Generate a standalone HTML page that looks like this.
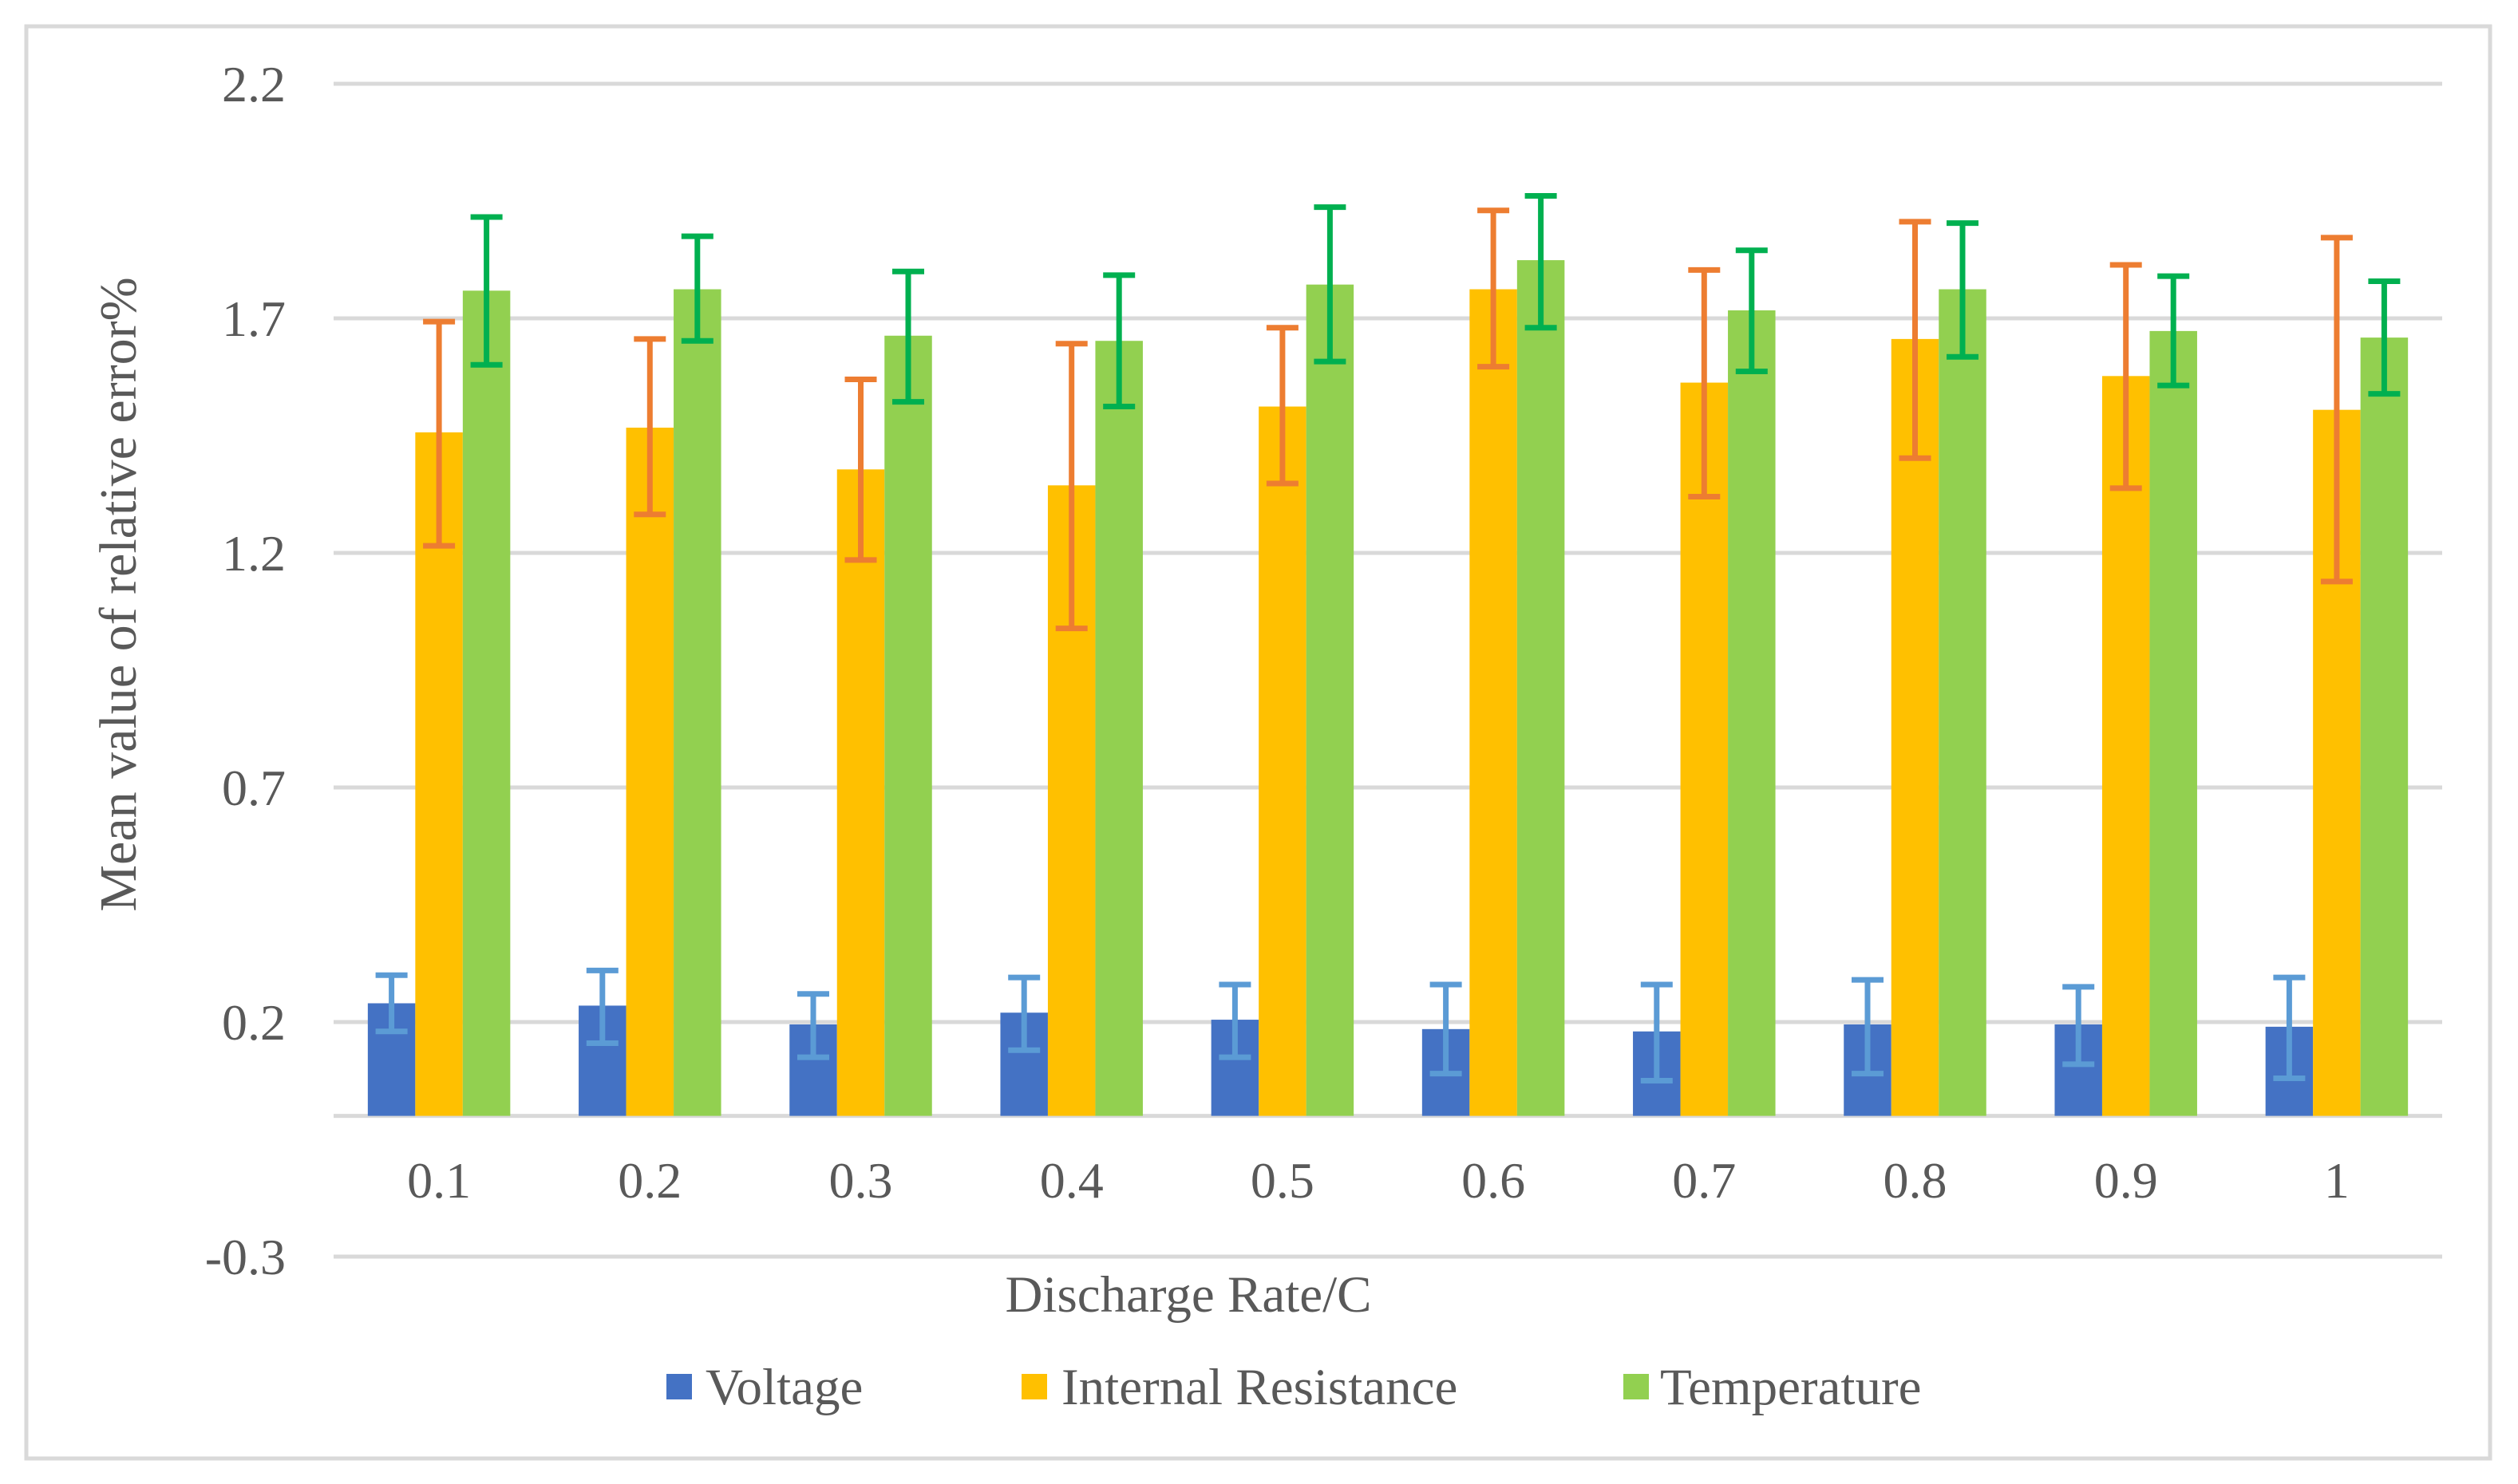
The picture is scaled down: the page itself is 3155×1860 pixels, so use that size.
<!DOCTYPE html>
<html><head><meta charset="utf-8">
<style>
html,body{margin:0;padding:0;background:#fff;}
svg{display:block;}
text{font-family:"Liberation Serif",serif;fill:#595959;}
</style></head>
<body>
<svg id="chart" width="3155" height="1860" viewBox="0 0 3155 1860" xmlns="http://www.w3.org/2000/svg">
<rect x="33" y="33" width="3087" height="1795" fill="#fff" stroke="#D9D9D9" stroke-width="5"/>
<g id="grid"></g>
<g id="bars"></g>
<g id="errs"></g>
<g id="labels"></g>
<text x="0" y="0" font-size="66" text-anchor="middle" transform="translate(170,745) rotate(-90)">Mean value of relative error%</text>
<text x="1489" y="1644" font-size="65" text-anchor="middle">Discharge Rate/C</text>
<g>
<g><rect x="835" y="1722" width="32" height="32" fill="#4472C4"/><text x="884" y="1760" font-size="65">Voltage</text></g>
<g><rect x="1280" y="1722" width="32" height="32" fill="#FFC000"/><text x="1330" y="1760" font-size="65">Internal Resistance</text></g>
<g><rect x="2034" y="1722" width="32" height="32" fill="#92D050"/><text x="2080" y="1760" font-size="65">Temperature</text></g>
</g>
</svg>
<script>
const categories = ["0.1","0.2","0.3","0.4","0.5","0.6","0.7","0.8","0.9","1"];
const yTicks = [2.2, 1.7, 1.2, 0.7, 0.2, -0.3];
const voltage = [0.24,0.235,0.195,0.22,0.205,0.185,0.18,0.195,0.195,0.19];
const voltageLow = [0.18,0.155,0.125,0.14,0.125,0.09,0.075,0.09,0.11,0.08];
const voltageHigh = [0.30,0.31,0.26,0.295,0.28,0.28,0.28,0.29,0.275,0.295];
const resistance = [1.457,1.467,1.378,1.344,1.512,1.762,1.563,1.656,1.577,1.505];
const resistanceLow = [1.215,1.282,1.185,1.039,1.348,1.597,1.32,1.402,1.338,1.139];
const resistanceHigh = [1.693,1.656,1.57,1.646,1.68,1.93,1.803,1.906,1.814,1.872];
const temperature = [1.759,1.762,1.663,1.652,1.772,1.824,1.717,1.762,1.673,1.659];
const temperatureLow = [1.601,1.652,1.522,1.512,1.608,1.68,1.587,1.618,1.557,1.539];
const temperatureHigh = [1.916,1.875,1.8,1.792,1.937,1.961,1.845,1.903,1.79,1.779];

const NS="http://www.w3.org/2000/svg";
const X0=418, X1=3060, YTOP=105, PERUNIT=588;
function y(v){return YTOP+(2.2-v)*PERUNIT;}
const bandW=(X1-X0)/categories.length;
function xc(i){return X0+bandW*(i+0.5);}
const barW=59.5;
function mk(tag,attrs,parent){const e=document.createElementNS(NS,tag);for(const k in attrs)e.setAttribute(k,attrs[k]);parent.appendChild(e);return e;}
const grid=document.getElementById('grid'),bars=document.getElementById('bars'),errs=document.getElementById('errs'),labels=document.getElementById('labels');
yTicks.forEach(t=>{
  const l=mk('line',{x1:X0,x2:X1,y1:y(t),y2:y(t),stroke:'#D9D9D9','stroke-width':5},grid);
  
  
  const tx=mk('text',{x:358,y:y(t)+22,'font-size':64,'text-anchor':'end'},labels);
  tx.textContent=t;
  
  
});
const ax=mk('line',{x1:X0,x2:X1,y1:y(0),y2:y(0),stroke:'#D9D9D9','stroke-width':5},grid);


const series=[
 {name:'voltage',v:voltage,lo:voltageLow,hi:voltageHigh,fill:'#4472C4',err:'#5B9BD5'},
 {name:'resistance',v:resistance,lo:resistanceLow,hi:resistanceHigh,fill:'#FFC000',err:'#ED7D31'},
 {name:'temperature',v:temperature,lo:temperatureLow,hi:temperatureHigh,fill:'#92D050',err:'#00B050'}];
categories.forEach((c,i)=>{
  series.forEach((s,k)=>{
    const cx=xc(i)+(k-1)*barW;
    const top=y(s.v[i]);
    const r=mk('rect',{x:cx-barW/2,y:top,width:barW,height:y(0)-top,fill:s.fill},bars);
    
    
    const g=mk('g',{stroke:s.err,'stroke-width':7},errs);
    
    
    mk('line',{x1:cx,x2:cx,y1:y(s.hi[i]),y2:y(s.lo[i])},g);
    mk('line',{x1:cx-20,x2:cx+20,y1:y(s.hi[i]),y2:y(s.hi[i])},g);
    mk('line',{x1:cx-20,x2:cx+20,y1:y(s.lo[i]),y2:y(s.lo[i])},g);
  });
  const t=mk('text',{x:xc(i),y:1501,'font-size':64,'text-anchor':'middle'},labels);
  t.textContent=c;
  
  
});
</script>
</body></html>
